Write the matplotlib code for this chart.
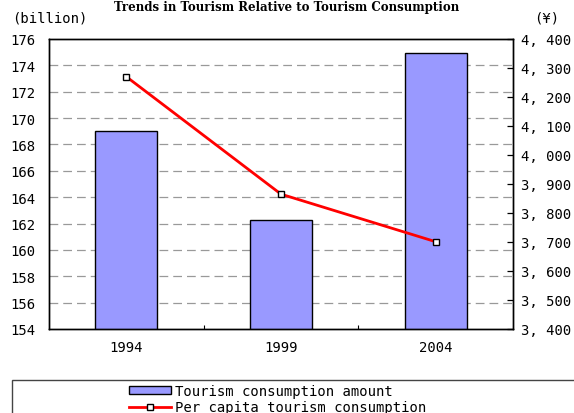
import matplotlib
matplotlib.use("Agg")
import matplotlib.pyplot as plt
from matplotlib.patches import Rectangle, Patch
from matplotlib.lines import Line2D
from matplotlib.ticker import FuncFormatter, FixedLocator

years = ["1994", "1999", "2004"]
consumption_amount = [169.0, 162.3, 174.9]      # billion
per_capita = [4270, 3865, 3701]                  # yen
left_ticks = list(range(154, 177, 2))
right_ticks = list(range(3400, 4401, 100))
title = "Trends in Tourism Relative to Tourism Consumption"

W, H = 574, 414
fig = plt.figure(figsize=(W / 100, H / 100), dpi=100)
mono = "DejaVu Sans Mono"

L, R, T, B = 49, 513, 40, 330
ax = fig.add_axes([L / W, 1 - B / H, (R - L) / W, (B - T) / H])
ax2 = ax.twinx()
ax.set_zorder(1)
ax2.set_zorder(2)
ax.patch.set_visible(True)
ax2.patch.set_visible(False)

x = list(range(len(years)))
ax.bar(x, [v - 154 for v in consumption_amount], bottom=154, width=0.4,
       color="#9999ff", edgecolor="black", linewidth=1.0, zorder=3)
ax.set_xlim(-0.5, len(years) - 0.5)
ax.set_ylim(154, 176)
ax.yaxis.set_major_locator(FixedLocator(left_ticks))
for t in left_ticks[1:-1]:
    ax.axhline(t, color="#999999", lw=0.9, ls=(0, (7, 4)), zorder=1)

ax.set_xticks(x)
ax.set_xticklabels(years, fontfamily=mono, fontsize=10)
ax.set_xticks([0.5, 1.5], minor=True)
ax.tick_params(axis="x", which="major", length=0, pad=8)
ax.tick_params(axis="x", which="minor", length=3, direction="in", width=0.8)
ax.tick_params(axis="y", which="major", length=0, pad=10, labelsize=10)
for lab in ax.get_yticklabels():
    lab.set_fontfamily(mono)

ax2.plot(x, per_capita, color="red", lw=2, marker="s", markersize=5,
         markerfacecolor="white", markeredgecolor="black", markeredgewidth=1,
         zorder=5)
ax2.set_ylim(3400, 4400)
ax2.yaxis.set_major_locator(FixedLocator(right_ticks))
ax2.yaxis.set_major_formatter(FuncFormatter(lambda v, p: f"{int(v)//1000}, {int(v)%1000:03d}"))
ax2.tick_params(axis="y", direction="in", length=4, width=0.9, pad=6, labelsize=10)
for lab in ax2.get_yticklabels():
    lab.set_fontfamily(mono)

for a in (ax, ax2):
    for s in a.spines.values():
        s.set_linewidth(1.0)
        s.set_color("black")

fig.text(12 / W, 1 - 18 / H, "(billion)", fontfamily=mono, fontsize=10,
         ha="left", va="center")
fig.text(534 / W, 1 - 18 / H, "(¥)", fontfamily=mono, fontsize=10,
         ha="left", va="center")
fig.text(0.5, 1 - 1 / H, title, fontfamily="DejaVu Serif", fontsize=8.5,
         fontweight="bold", ha="center", va="top")

# legend frame (extends off the right edge)
fig.patches.append(Rectangle((12 / W, -0.1), 1.0, (H - 381) / H + 0.1,
                             transform=fig.transFigure, fill=False,
                             ec="#444444", lw=1.0))
handles = [
    Patch(facecolor="#9999ff", edgecolor="black", linewidth=1.0),
    Line2D([], [], color="red", lw=2, marker="s", markersize=5,
           markerfacecolor="white", markeredgecolor="black"),
]
labels = ["Tourism consumption amount", "Per capita tourism consumption"]
fig.legend(handles, labels, loc="center", bbox_to_anchor=(278 / W, 1 - 400 / H),
           frameon=False, prop={"family": mono, "size": 10},
           handlelength=3.0, handleheight=0.5, handletextpad=0.3,
           labelspacing=0.2, borderpad=0)

fig.savefig("out.png", dpi=100)
